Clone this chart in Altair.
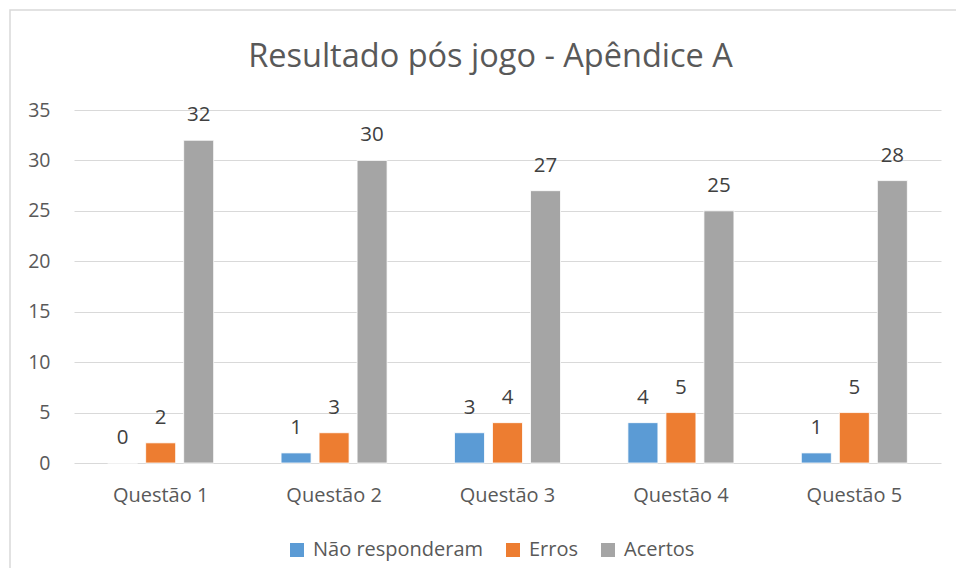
import altair as alt
import pandas as pd

categories = ["Questão 1", "Questão 2", "Questão 3", "Questão 4", "Questão 5"]
series = ["Não responderam", "Erros", "Acertos"]
nao_responderam = [0, 1, 3, 4, 1]
erros = [2, 3, 4, 5, 5]
acertos = [32, 30, 27, 25, 28]
colors = ["#5B9BD5", "#ED7D31", "#A5A5A5"]

rows = []
for s, vals in zip(series, [nao_responderam, erros, acertos]):
    for c, v in zip(categories, vals):
        rows.append({"cat": c, "serie": s, "valor": v})
df = pd.DataFrame(rows)

FONT = "Open Sans"

x_enc = alt.X("cat:N", sort=categories, title=None,
              scale=alt.Scale(paddingInner=0.3426, paddingOuter=0.171),
              axis=alt.Axis(labelAngle=0, ticks=False, domain=False, labelPadding=22,
                            labelFontSize=20, labelColor="#595959", labelFont=FONT))
xoff = alt.XOffset("serie:N", sort=series,
                   scale=alt.Scale(paddingInner=0.2105, paddingOuter=0.105))
y_enc = alt.Y("valor:Q", title=None,
              scale=alt.Scale(domain=[0, 35], nice=False),
              axis=alt.Axis(values=[0, 5, 10, 15, 20, 25, 30, 35], ticks=False, domain=False,
                            labelPadding=24, labelFontSize=19.5, labelColor="#595959",
                            labelFont=FONT, gridColor="#D9D9D9", gridWidth=1.2))

base = alt.Chart(df)

bars = base.mark_bar(stroke="white", strokeWidth=0.8).encode(
    x=x_enc, xOffset=xoff, y=y_enc,
    color=alt.Color("serie:N", sort=series,
                    scale=alt.Scale(domain=series, range=colors),
                    legend=alt.Legend(title=None, orient="none", direction="horizontal",
                                      legendX=213, legendY=430,
                                      symbolType="square", symbolSize=196,
                                      symbolStrokeWidth=0, labelFontSize=20,
                                      labelColor="#595959", labelFont=FONT,
                                      labelLimit=400,
                                      labelOffset=6, columnPadding=19)),
)

labels = base.mark_text(baseline="middle", dy=-25, fontSize=20.5, color="#404040", font=FONT).encode(
    x=alt.X("cat:N", sort=categories), xOffset=alt.XOffset("serie:N", sort=series), y="valor:Q",
    text="valor:Q",
)

frame = alt.Chart(alt.Data(values=[{}])).mark_rect(fill=None, stroke="#D9D9D9", strokeWidth=1.5).encode(
    x=alt.value(-64), x2=alt.value(2000), y=alt.value(-100), y2=alt.value(1000)
)

chart = alt.layer(frame, bars, labels).properties(
    width=867, height=353,
    title=alt.TitleParams("Resultado pós jogo - Apêndice A", fontSize=32.5, fontWeight="normal",
                          color="#595959", font=FONT, anchor="middle", dx=-17,
                          baseline="middle", offset=-80),
    autosize=alt.AutoSizeParams(type="none"),
    padding={"left": 66, "top": 102, "right": 15, "bottom": 105},
).configure(background="white").configure_view(stroke=None)

chart.save("out.html", embed_options={"renderer": "svg", "actions": False})
